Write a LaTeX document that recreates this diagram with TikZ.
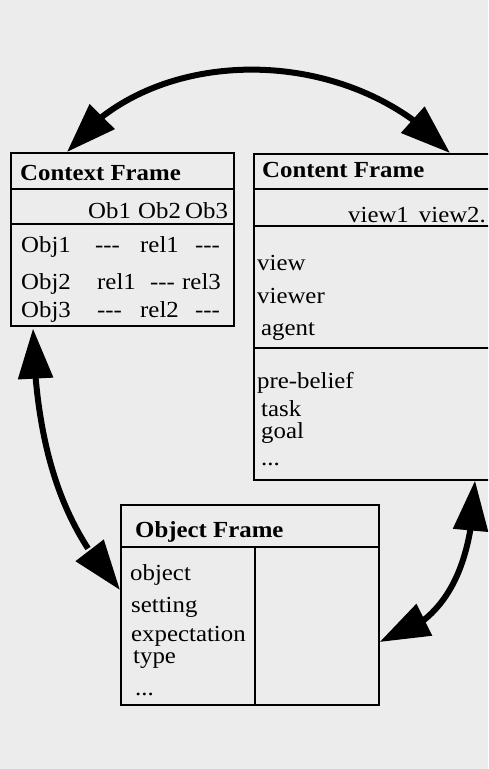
\documentclass[tikz,border=0pt]{standalone}
\usepackage{fontspec}
\setmainfont{Liberation Serif}[FakeStretch=1.08]
\usetikzlibrary{arrows.meta,bending,calc}
\definecolor{paper}{HTML}{ECECEC}
\newcommand{\tdash}{-{}-{}-}
\begin{document}
\begin{tikzpicture}[x=1pt,y=-1pt,
  frame/.style={draw, line width=1.6pt, rectangle, inner sep=0pt, anchor=north west},
  rulel/.style={line width=1.4pt},
  thickrule/.style={line width=2.8pt},
  lbl/.style={anchor=base west, inner sep=0pt, font=\fontsize{23}{26}\selectfont},
  ttl/.style={anchor=base west, inner sep=0pt, font=\fontsize{23}{26}\selectfont\bfseries},
  bigarrow/.style={line width=6pt, {Triangle[length=50pt,width=34pt]}-{Triangle[length=50pt,width=34pt]}}]
\useasboundingbox (0,0) rectangle (488,769);
\clip (0,0) rectangle (488,769);
\fill[paper] (0,0) rectangle (488,769);

% Context frame
\node[frame, minimum width=223pt, minimum height=173pt] (ctx) at (10,152) {};
\draw[thickrule] (ctx.west |- 0,189) -- (ctx.east |- 0,189);
\draw[rulel] (ctx.west |- 0,224) -- (ctx.east |- 0,224);
\node[ttl] (ctxt) at (20,180) {Context Frame};
\node[lbl] (c01) at (88,218) {Ob1};
\node[lbl] (c02) at (138,218) {Ob2};
\node[lbl] (c03) at (185,218) {Ob3};
\node[lbl] (c10) at (21,252) {Obj1};
\node[lbl] (c11) at (95,252) {\tdash};
\node[lbl] (c12) at (140,252) {rel1};
\node[lbl] (c13) at (195,252) {\tdash};
\node[lbl] (c20) at (21,289) {Obj2};
\node[lbl] (c21) at (97,289) {rel1};
\node[lbl] (c22) at (150,289) {\tdash};
\node[lbl] (c23) at (182,289) {rel3};
\node[lbl] (c30) at (21,317) {Obj3};
\node[lbl] (c31) at (97,317) {\tdash};
\node[lbl] (c32) at (140,317) {rel2};
\node[lbl] (c33) at (195,317) {\tdash};

% Content frame
\node[frame, minimum width=250pt, minimum height=326pt] (cnt) at (253,153) {};
\draw[thickrule] (cnt.west |- 0,189) -- (cnt.east |- 0,189);
\draw[rulel] (cnt.west |- 0,226) -- (cnt.east |- 0,226);
\draw[rulel] (cnt.west |- 0,348) -- (cnt.east |- 0,348);
\node[ttl] (cntt) at (262,177) {Content Frame};
\node[lbl] (v12) at (348,222) {view1\, view2.};
\node[lbl] (k1) at (257,270) {view};
\node[lbl] (k2) at (257,303) {viewer};
\node[lbl] (k3) at (261,335) {agent};
\node[lbl] (k4) at (257,388) {pre-belief};
\node[lbl] (k5) at (261,416) {task};
\node[lbl] (k6) at (261,438) {goal};
\node[lbl] (k7) at (261,465) {...};

% Object frame
\node[frame, minimum width=258pt, minimum height=200pt] (obj) at (120,504) {};
\draw[thickrule] (obj.west |- 0,547) -- (obj.east |- 0,547);
\draw[rulel] (255,547) -- (255,0 |- obj.south);
\node[ttl] (objt) at (135,537) {Object Frame};
\node[lbl] (o1) at (130,580) {object};
\node[lbl] (o2) at (131,612) {setting};
\node[lbl] (o3) at (131,641) {expectation};
\node[lbl] (o4) at (133,663) {type};
\node[lbl] (o5) at (135,695) {...};

% Arrows
\draw[bigarrow] ($(ctx.north west)+(57,0)$) .. controls (150,42) and (350,42) .. ($(cnt.north west)+(197,0)$);
\draw[bigarrow] ($(ctx.south west)+(23,2)$) .. controls (36,480) and (80,545) .. ($(obj.north west)+(0,86)$);
\draw[bigarrow] ($(cnt.south west)+(222,0)$) .. controls (472,590) and (430,628) .. ($(obj.north east)+(0,138)$);
\end{tikzpicture}
\end{document}
